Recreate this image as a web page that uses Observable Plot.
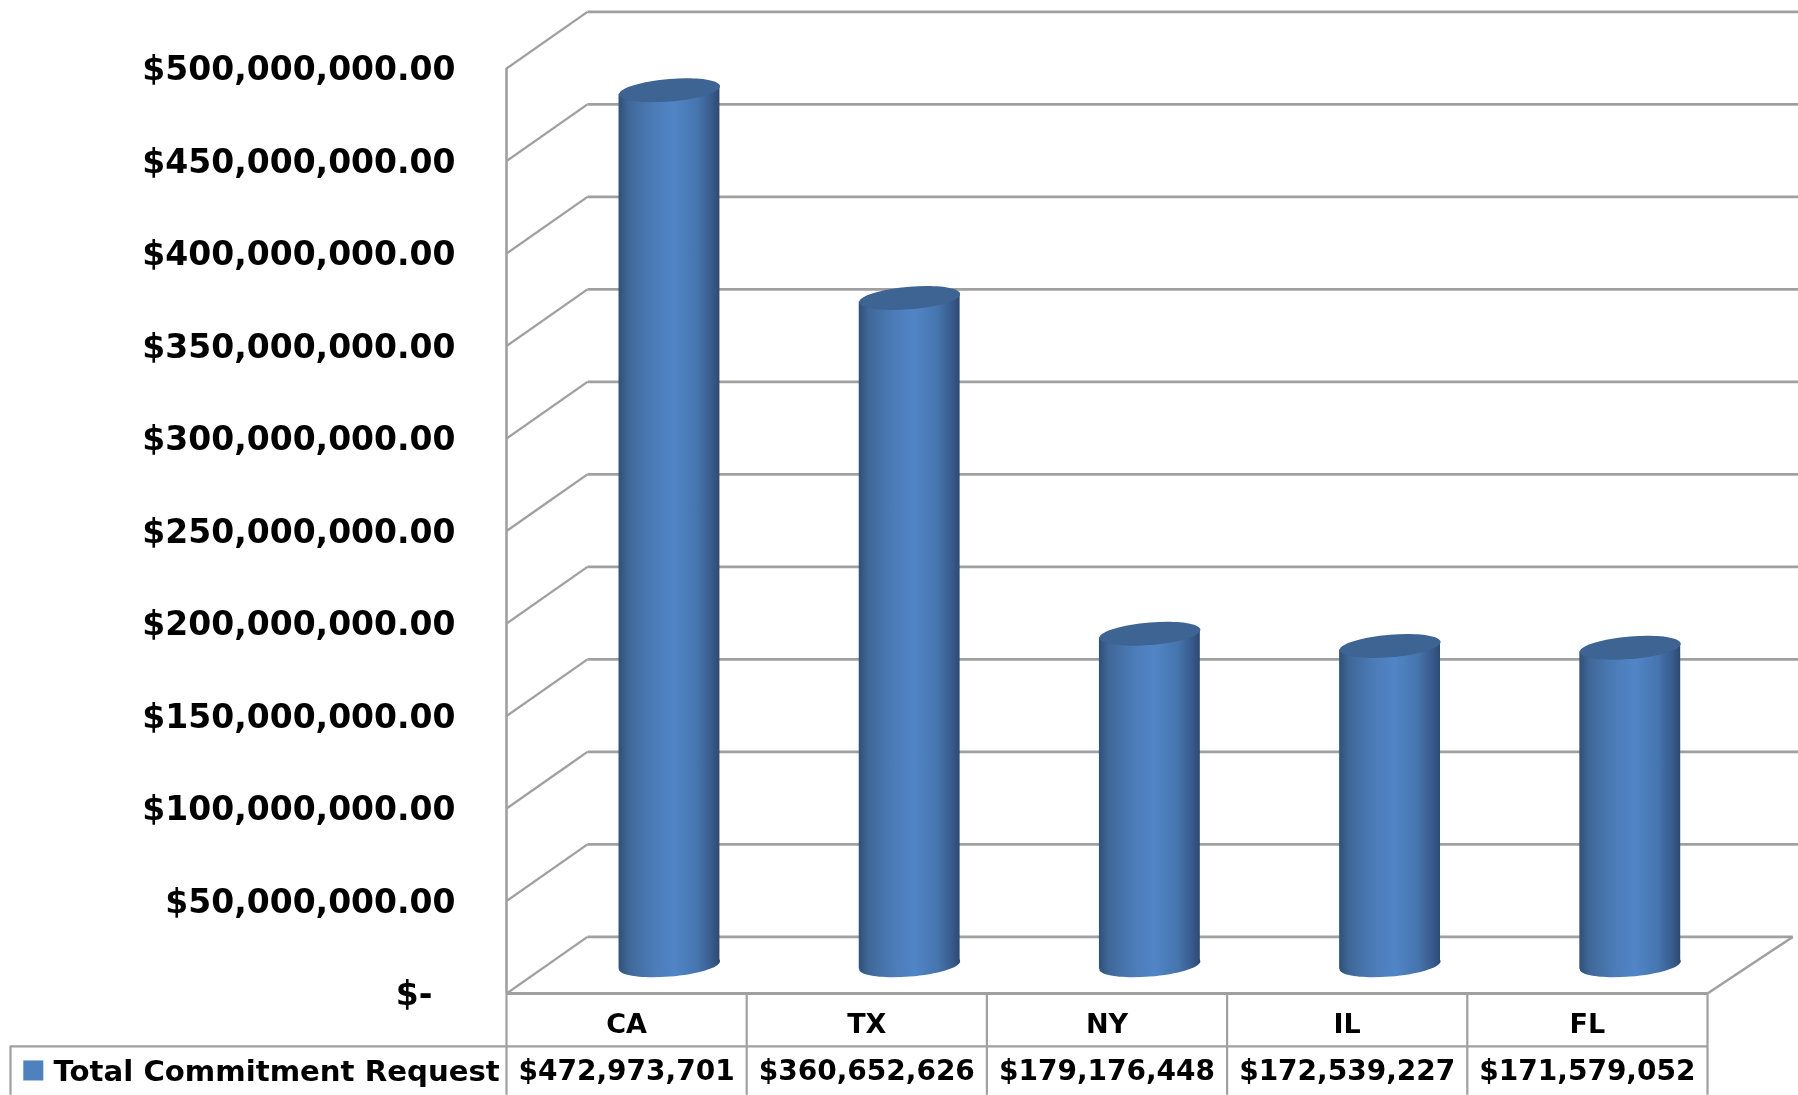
<!DOCTYPE html>
<html><head><meta charset="utf-8">
<script src="https://cdn.jsdelivr.net/npm/d3@7"></script>
<script src="https://cdn.jsdelivr.net/npm/@observablehq/plot@0.6"></script>
<style>html,body{margin:0;padding:0;background:#fff}svg{display:block}</style>
</head><body><div id="chart"></div>
<script>
const states = ["CA", "TX", "NY", "IL", "FL"];
const requests = [472973701, 360652626, 179176448, 172539227, 171579052];
const valueLabels = ["$472,973,701", "$360,652,626", "$179,176,448", "$172,539,227", "$171,579,052"];
const yTicks = [0, 50e6, 100e6, 150e6, 200e6, 250e6, 300e6, 350e6, 400e6, 450e6, 500e6];
const seriesName = "Total Commitment Request";

// Oblique projection, in data units: one unit of depth shifts a point right and up.
const depthX = 0.337, depthY = 30.6e6;
const barDepth = 0.5, barOffset = 0.51, barHalf = 0.21, tiltY = 2.2e6;
const boundaries = d3.range(states.length + 1);
const tableLeft = -2.065, rowLine = -28.6e6, tableEnd = -55e6;
const bars = states.map((s, i) => ({s, v: requests[i], c: i + barOffset + depthX * barDepth, base: depthY * barDepth}));
const bodies = bars.flatMap(b => [
  {s: b.s, x: b.c - barHalf, y1: b.base - tiltY, y2: b.v + b.base - tiltY},
  {s: b.s, x: b.c + barHalf, y1: b.base + tiltY, y2: b.v + b.base + tiltY}
]);
const ellipse = {draw(ctx, size) {
  const r = Math.sqrt(size / Math.PI), k = 0.5523;
  const P = (u, v) => [r * u, r * (0.224 * v - 0.08 * u)];
  ctx.moveTo(...P(1, 0));
  ctx.bezierCurveTo(...P(1, k), ...P(k, 1), ...P(0, 1));
  ctx.bezierCurveTo(...P(-k, 1), ...P(-1, k), ...P(-1, 0));
  ctx.bezierCurveTo(...P(-1, -k), ...P(-k, -1), ...P(0, -1));
  ctx.bezierCurveTo(...P(k, -1), ...P(1, -k), ...P(1, 0));
  ctx.closePath();
}};
const gridColor = "#a0a0a0";
const defs = () => {
  const d = d3.create("svg:defs");
  const g = d.append("linearGradient").attr("id", "cyl").attr("x1", 0).attr("x2", 1).attr("y1", 0).attr("y2", 0);
  [[0, "#2f5078"], [0.1, "#3f6899"], [0.35, "#4c7cb8"], [0.55, "#5085c6"], [0.78, "#4675af"], [0.93, "#37598a"], [1, "#2d4a70"]]
    .forEach(([o, c]) => g.append("stop").attr("offset", o).attr("stop-color", c));
  return d.node();
};
const font = "'DejaVu Sans', sans-serif";
const chart = Plot.plot({
  width: 1798, height: 1095,
  marginLeft: 506, marginRight: 91, marginTop: 68, marginBottom: 102,
  style: {fontFamily: font, background: "#fff", color: "#000", filter: "blur(0.55px)"},
  x: {type: "linear", domain: [0, states.length], axis: null},
  y: {domain: [0, 500e6], axis: null},
  marks: [
    defs,
    Plot.link(yTicks, {x1: 0, y1: d => d, x2: depthX, y2: d => d + depthY, stroke: gridColor, strokeWidth: 2.4}),
    Plot.link(yTicks, {x1: depthX, y1: d => d + depthY, x2: d => d === 0 ? 5.355 : 5.38, y2: d => d + depthY, stroke: gridColor, strokeWidth: 2.8}),
    Plot.link([0], {x1: 5, y1: 0, x2: 5.355, y2: depthY, stroke: gridColor, strokeWidth: 2.4}),
    Plot.ruleX([0], {y1: 0, y2: 500e6, stroke: gridColor, strokeWidth: 2.6}),
    Plot.ruleY([0], {x1: 0, x2: 5, stroke: gridColor, strokeWidth: 3.2}),
    Plot.ruleX(boundaries, {y1: 0, y2: rowLine, stroke: gridColor, strokeWidth: 2.2}),
    Plot.ruleX(boundaries, {y1: rowLine, y2: tableEnd, stroke: gridColor, strokeWidth: 2.2}),
    Plot.ruleX([tableLeft], {y1: rowLine, y2: tableEnd, stroke: gridColor, strokeWidth: 2.2}),
    Plot.ruleY([rowLine], {x1: tableLeft, x2: 5, stroke: gridColor, strokeWidth: 2.2}),
    Plot.dot(bars, {x: "c", y: "base", r: 50.5, symbol: ellipse, fill: "url(#cyl)", stroke: "none"}),
    Plot.areaY(bodies, {x: "x", y1: "y1", y2: "y2", z: "s", fill: "url(#cyl)", curve: "linear"}),
    Plot.dot(bars, {x: "c", y: d => d.v + d.base, r: 50.5, symbol: ellipse, fill: "#3d6492", stroke: "none"}),
    Plot.axisY(yTicks, {anchor: "left", tickSize: 0, tickPadding: 51, label: null, fontSize: 33, fontWeight: "bold", dy: 1,
      tickFormat: d => d === 0 ? "$-\u00a0\u00a0" : d3.format("$,.2f")(d)}),
    Plot.text(states, {x: (d, i) => i + 0.5, y: -16.2e6, text: d => d, fontSize: 27, fontWeight: "bold", fill: "#000", dy: 1}),
    Plot.text(valueLabels, {x: (d, i) => i + 0.5, y: -41.6e6, text: d => d, fontSize: 28, fontWeight: "bold", fill: "#000", dy: 1}),
    Plot.text([seriesName], {x: -1.886, y: -41.6e6, text: d => d, textAnchor: "start", fontSize: 29.2, fontWeight: "bold", fill: "#000", dy: 1}),
    Plot.dot([seriesName], {x: -1.97, y: -41.6e6, symbol: "square", r: 11.3, fill: "#4f81bd", stroke: "none"})
  ]
});
document.getElementById("chart").append(chart);
</script></body></html>
